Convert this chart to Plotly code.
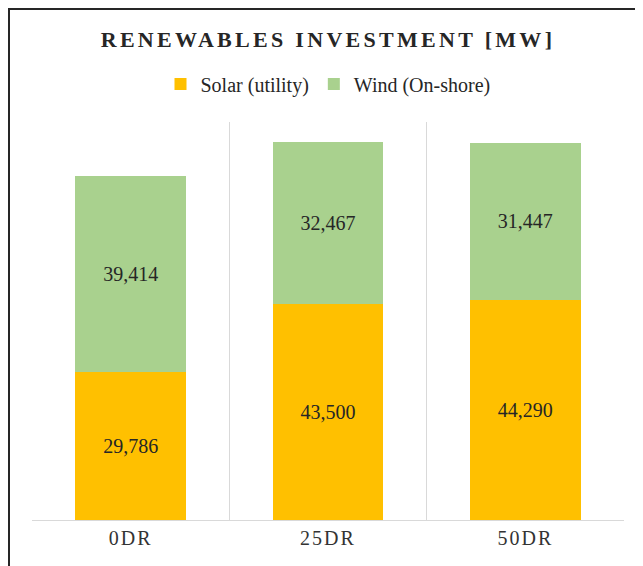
import plotly.graph_objects as go

# chart data
categories = ["0DR", "25DR", "50DR"]
solar_mw = [29786, 43500, 44290]
wind_mw = [39414, 32467, 31447]
title_text = "RENEWABLES INVESTMENT [MW]"

SERIF = "Liberation Serif"

# the page body has an 8px margin, so the figure is 8px smaller than the window
W, H = 635, 558
L, R, T, B = 24, 19, 114, 46
PW, PH = W - L - R, H - T - B

fig = go.Figure()
fig.add_trace(go.Bar(
    x=categories, y=solar_mw, name="Solar (utility)",
    marker=dict(color="#FFC000", line=dict(width=0)),
    texttemplate="%{y:,}", textposition="inside", insidetextanchor="middle",
    textangle=0, textfont=dict(family=SERIF, size=20, color="#262626"),
))
fig.add_trace(go.Bar(
    x=categories, y=wind_mw, name="Wind (On-shore)",
    marker=dict(color="#A9D18E", line=dict(width=0)),
    texttemplate="%{y:,}", textposition="inside", insidetextanchor="middle",
    textangle=0, textfont=dict(family=SERIF, size=20, color="#262626"),
))

# outer frame (only top/left visible in the crop)
fig.add_shape(type="rect", xref="paper", yref="paper",
              x0=(1 - L) / PW, x1=1.5, y0=-0.5, y1=(PH + T - 1) / PH,
              line=dict(color="#262626", width=2), layer="above")

fig.update_layout(
    width=W, height=H,
    margin=dict(l=L, r=R, t=T, b=B),
    paper_bgcolor="white", plot_bgcolor="white",
    barmode="stack", bargap=0.44,
    title=dict(text="<b>" + title_text + "</b>",
               x=(L + PW / 2) / W, xanchor="center", y=1 - 31 / H, yanchor="middle",
               yref="container", font=dict(family=SERIF, size=22, color="#262626")),
    legend=dict(orientation="h", x=0.5, xanchor="center", y=(PH + T - 76) / PH,
                yanchor="middle", font=dict(family=SERIF, size=20, color="#262626"),
                traceorder="normal"),
    xaxis=dict(
        type="category", range=[-0.5, 2.5],
        tickson="boundaries", showgrid=True, gridcolor="#D9D9D9", gridwidth=1,
        showline=True, linecolor="#D9D9D9", linewidth=1,
        ticks="outside", ticklen=14, tickcolor="rgba(0,0,0,0)",
        tickfont=dict(family=SERIF, size=20, color="#333333"),
        zeroline=False,
    ),
    yaxis=dict(range=[0, 80000], visible=False, showgrid=False, zeroline=False),
)

# letter-spacing for the title and category labels (no plotly option for it)
spacing_js = """
document.querySelectorAll('.gtitle').forEach(function (e) { e.style.letterSpacing = '3.3px'; });
document.querySelectorAll('.xtick text').forEach(function (e) { e.style.letterSpacing = '2px'; });
"""

fig.write_html("out.html", post_script=spacing_js)
